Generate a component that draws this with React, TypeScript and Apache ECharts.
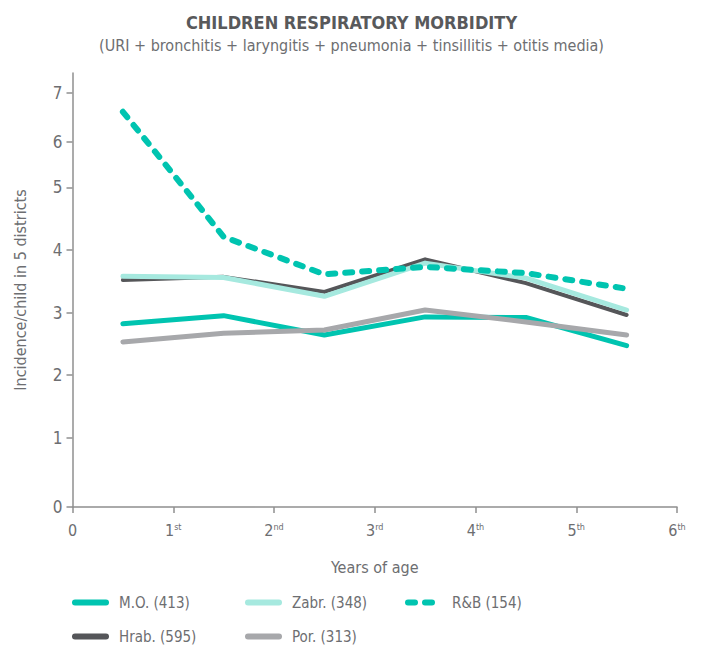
import React, { useEffect, useRef } from "react";
import * as echarts from "echarts";

const years = [0.5, 1.5, 2.5, 3.5, 4.5, 5.5];
const moValues = [2.82, 2.95, 2.64, 2.93, 2.92, 2.47];
const zabrValues = [3.58, 3.56, 3.26, 3.79, 3.55, 3.04];
const rbValues = [6.21, 4.21, 3.61, 3.73, 3.63, 3.38];
const hrabValues = [3.52, 3.57, 3.33, 3.85, 3.47, 2.96];
const porValues = [2.53, 2.67, 2.72, 3.04, 2.85, 2.64];

const seriesNames = ["M.O. (413)", "Zabr. (348)", "R&B (154)", "Hrab. (595)", "Por. (313)"];

const xTickNumbers = ["0", "1", "2", "3", "4", "5", "6"];
const xTickSuffixes = ["", "st", "nd", "rd", "th", "th", "th"];
const yTickValues = [-0.11, 1, 2, 3, 4, 5, 5.73, 6.51];
const yTickLabels = ["0", "1", "2", "3", "4", "5", "6", "7"];

const FONT = "'DejaVu Sans Condensed', 'Liberation Sans Narrow', Roboto, sans-serif";
const TEAL = "#00c4b0";
const LIGHT_TEAL = "#a6e9df";
const DARK = "#555659";
const GREY = "#a7a8ab";
const AXIS = "#8f8f8f";
const TEXT = "#6d6e71";

function pairs(vals: number[]) {
  return years.map((x, i) => [x, vals[i]]);
}

export default function App() {
  const ref = useRef<HTMLDivElement>(null);
  useEffect(() => {
    if (!ref.current) return;
    const chart = echarts.init(ref.current, null, { renderer: "svg" });
    const line = (name: string, vals: number[], color: string, width: number, dashed = false) => ({
      type: "line",
      name,
      data: pairs(vals),
      showSymbol: false,
      symbol: "none",
      lineStyle: {
        color,
        width,
        type: dashed ? [7, 10] : "solid",
        cap: "round",
        join: "round",
      },
      itemStyle: { color },
    });
    const legendItem = (name: string, left: number, top: number) => ({
      data: [name],
      left,
      top,
      padding: 0,
      itemWidth: 31,
      itemHeight: 4,
      itemGap: 12,
      itemStyle: { opacity: 0, color: "rgba(0,0,0,0)", borderWidth: 0 },
      lineStyle: { width: 6, cap: "round" },
      textStyle: { fontFamily: FONT, fontSize: 15, color: TEXT, padding: [0, 0, 0, 8] },
      selectedMode: false,
    });
    chart.setOption({
      animation: false,
      backgroundColor: "#ffffff",
      title: {
        text: "CHILDREN RESPIRATORY MORBIDITY",
        subtext: "(URI + bronchitis + laryngitis + pneumonia + tinsillitis + otitis media)",
        left: "center",
        top: 8,
        itemGap: 6,
        textStyle: { fontFamily: FONT, fontSize: 18, fontWeight: "bold", color: "#58595b" },
        subtextStyle: { fontFamily: FONT, fontSize: 16, color: TEXT },
      },
      grid: { left: 72.5, right: 26, top: 73, bottom: 139, outerBoundsMode: "none" },
      legend: [
        legendItem(seriesNames[0], 72, 595),
        legendItem(seriesNames[1], 245, 595),
        legendItem(seriesNames[2], 405, 595),
        legendItem(seriesNames[3], 72, 629),
        legendItem(seriesNames[4], 245, 629),
      ],
      xAxis: {
        type: "value",
        min: 0,
        max: 6,
        interval: 1,
        name: "Years of age",
        nameLocation: "middle",
        nameGap: 52,
        nameTextStyle: { fontFamily: FONT, fontSize: 16, color: TEXT },
        axisLine: { show: true, onZero: false, lineStyle: { color: AXIS, width: 1.5 } },
        axisTick: { show: true, length: 6, lineStyle: { color: AXIS, width: 1.5 } },
        splitLine: { show: false },
        axisLabel: {
          margin: 15,
          color: TEXT,
          fontFamily: FONT,
          fontSize: 16,
          formatter: (v: number) => {
            const i = Math.round(v);
            const s = xTickSuffixes[i] || "";
            return s ? `{n|${xTickNumbers[i]}}{s|${s}}` : `{n|${xTickNumbers[i]}}`;
          },
          rich: {
            n: { fontFamily: FONT, fontSize: 16, color: TEXT },
            s: { fontFamily: FONT, fontSize: 9, color: TEXT, verticalAlign: "top", padding: [0, 0, 8, 0] },
          },
        },
      },
      yAxis: {
        type: "value",
        min: -0.11,
        max: 6.83,
        name: "Incidence/child in 5 districts",
        nameLocation: "middle",
        nameGap: 44,
        nameTextStyle: { fontFamily: FONT, fontSize: 16, color: TEXT },
        axisLine: { show: true, lineStyle: { color: AXIS, width: 1.5 } },
        axisTick: { show: true, length: 6, customValues: yTickValues, lineStyle: { color: AXIS, width: 1.5 } },
        splitLine: { show: false },
        axisLabel: {
          customValues: yTickValues,
          margin: 10,
          color: TEXT,
          fontFamily: FONT,
          fontSize: 17,
          formatter: (v: number) => {
            let best = 0;
            yTickValues.forEach((t, i) => {
              if (Math.abs(t - v) < Math.abs(yTickValues[best] - v)) best = i;
            });
            return yTickLabels[best];
          },
        },
      },
      series: [
        line(seriesNames[0], moValues, TEAL, 5),
        line(seriesNames[3], hrabValues, DARK, 4),
        line(seriesNames[4], porValues, GREY, 5),
        line(seriesNames[1], zabrValues, LIGHT_TEAL, 5),
        line(seriesNames[2], rbValues, TEAL, 6, true),
      ],
    });
    return () => chart.dispose();
  }, []);
  return (
    <div
      ref={ref}
      style={{ position: "fixed", left: 0, top: 0, width: 703, height: 646, background: "#fff" }}
    />
  );
}
